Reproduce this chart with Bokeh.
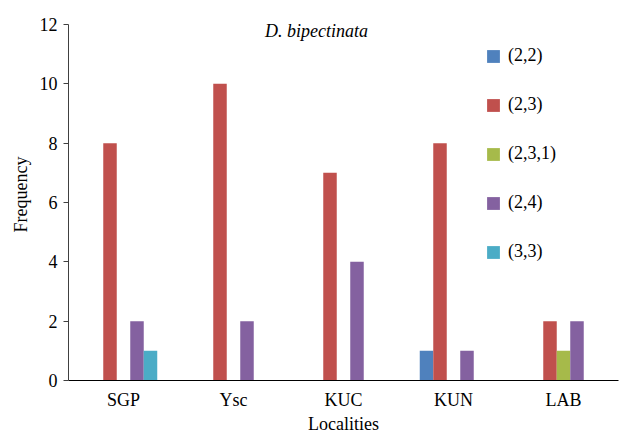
from bokeh.plotting import figure
from bokeh.models import ColumnDataSource, Range1d, FactorRange, Legend, LegendItem, Label
from bokeh.transform import dodge
from bokeh.embed import file_html
from bokeh.resources import INLINE

localities = ["SGP", "Ysc", "KUC", "KUN", "LAB"]
series = ["(2,2)", "(2,3)", "(2,3,1)", "(2,4)", "(3,3)"]
v22 = [0, 0, 0, 1, 0]
v23 = [8, 10, 7, 8, 2]
v231 = [0, 0, 0, 0, 1]
v24 = [2, 2, 4, 1, 2]
v33 = [1, 0, 0, 0, 0]
colors = ["#4F81BD", "#C0504D", "#A6BA4A", "#8461A0", "#4BACC6"]
y_ticks = [0, 2, 4, 6, 8, 10, 12]
y_max = 12

FONT = "Liberation Serif"

source = ColumnDataSource(data=dict(loc=localities, s0=v22, s1=v23, s2=v231, s3=v24, s4=v33))

p = figure(x_range=FactorRange(*localities, range_padding=0),
           y_range=Range1d(0, y_max * 372 / 356),
           width=620, height=436, output_backend="svg", toolbar_location=None,
           min_border_left=68, min_border_right=2, min_border_top=8, min_border_bottom=56)
p.title.visible = False
p.outline_line_color = None
p.xgrid.grid_line_color = None
p.ygrid.grid_line_color = None
p.background_fill_color = "white"
p.border_fill_color = "white"

bw = 1 / 1.63 / 5
items = []
for i, (name, col) in enumerate(zip(series, colors)):
    r = p.vbar(x=dodge("loc", (i - 2) * bw, range=p.x_range), top="s%d" % i, width=bw,
               source=source, fill_color=col, line_color=None, bottom=0)
    items.append(LegendItem(label=name, renderers=[r]))

legend = Legend(items=items, location=(417, 118), orientation="vertical")
legend.glyph_width = 16
legend.glyph_height = 16
legend.label_height = 16
legend.spacing = 28
legend.padding = 0
legend.margin = 0
legend.label_standoff = 7
legend.border_line_color = None
legend.background_fill_alpha = 0
legend.label_text_font = FONT
legend.label_text_font_size = "18px"
legend.label_text_color = "black"
p.add_layout(legend)

# axes
p.yaxis.ticker = y_ticks
p.yaxis.bounds = (0, y_max)
p.yaxis.major_tick_out = 5
p.yaxis.major_tick_in = 0
p.yaxis.minor_tick_line_color = None
p.yaxis.axis_line_color = "#404040"
p.yaxis.major_tick_line_color = "#404040"
p.yaxis.major_label_standoff = 6
p.yaxis.major_label_text_font = FONT
p.yaxis.major_label_text_font_size = "18px"
p.yaxis.major_label_text_color = "black"
p.yaxis.axis_label = "Frequency"
p.yaxis.axis_label_text_font = FONT
p.yaxis.axis_label_text_font_size = "18px"
p.yaxis.axis_label_text_font_style = "normal"
p.yaxis.axis_label_text_color = "black"
p.yaxis.axis_label_standoff = 6

p.xaxis.major_tick_line_color = None
p.xaxis.major_tick_out = 0
p.xaxis.minor_tick_line_color = None
p.xaxis.axis_line_color = "black"
p.xaxis.major_label_standoff = 9
p.xaxis.major_label_text_font = FONT
p.xaxis.major_label_text_font_size = "18px"
p.xaxis.major_label_text_color = "black"
p.xaxis.axis_label = "Localities"
p.xaxis.axis_label_text_font = FONT
p.xaxis.axis_label_text_font_size = "18px"
p.xaxis.axis_label_text_font_style = "normal"
p.xaxis.axis_label_text_color = "black"
p.xaxis.axis_label_standoff = 1

title = Label(x=248, y=350, x_units="screen", y_units="screen", text="D. bipectinata",
              text_font=FONT, text_font_size="18px", text_font_style="italic",
              text_align="center", text_baseline="alphabetic", text_color="black")
p.add_layout(title)

open("out.html", "w").write(file_html(p, INLINE))
